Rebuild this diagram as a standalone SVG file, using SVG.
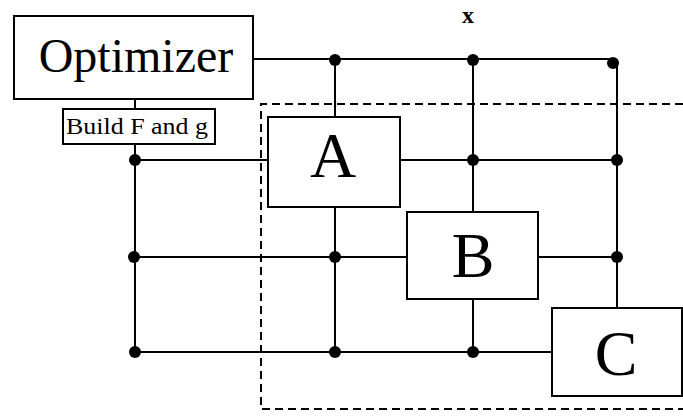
<svg xmlns="http://www.w3.org/2000/svg" width="683" height="418" viewBox="0 0 683 418">
<style>
.box{fill:#fff;stroke:#000;stroke-width:2}
.ln{stroke:#000;stroke-width:2;fill:none}
.dash{stroke:#000;stroke-width:2;fill:none;stroke-dasharray:8,5}
.dot{fill:#000}
.t{font-family:"Liberation Serif","Times New Roman",serif;fill:#000;text-anchor:middle}
</style>
<rect width="683" height="418" fill="#fff"/>
<path class="dash" d="M683,104 H261 V409 H683"/>
<g id="connectors">
<line class="ln" x1="135" y1="99" x2="135" y2="109"/>
<line class="ln" x1="135" y1="144" x2="135" y2="352"/>
<polyline class="ln" points="253,59 614,59 617,62 617,308"/>
<line class="ln" x1="335" y1="59" x2="335" y2="117"/>
<line class="ln" x1="335" y1="207" x2="335" y2="352"/>
<line class="ln" x1="473" y1="59" x2="473" y2="212"/>
<line class="ln" x1="473" y1="299" x2="473" y2="352"/>
<line class="ln" x1="135" y1="160" x2="268" y2="160"/>
<line class="ln" x1="400" y1="160" x2="617" y2="160"/>
<line class="ln" x1="135" y1="257" x2="407" y2="257"/>
<line class="ln" x1="538" y1="257" x2="617" y2="257"/>
<line class="ln" x1="135" y1="352" x2="552" y2="352"/>
<circle class="dot" cx="335" cy="60" r="6"/>
<circle class="dot" cx="473" cy="60" r="6"/>
<circle class="dot" cx="613" cy="63" r="6"/>
<circle class="dot" cx="135" cy="160" r="6"/>
<circle class="dot" cx="473" cy="160" r="6"/>
<circle class="dot" cx="617" cy="160" r="6"/>
<circle class="dot" cx="134" cy="257" r="6"/>
<circle class="dot" cx="335" cy="257" r="6"/>
<circle class="dot" cx="617" cy="257" r="6"/>
<circle class="dot" cx="135" cy="352" r="6"/>
<circle class="dot" cx="335" cy="352" r="6"/>
<circle class="dot" cx="473" cy="352" r="6"/>
</g>
<text class="t" x="468" y="23" font-size="24" font-weight="bold">x</text>
<g id="optimizer">
<rect class="box" x="14" y="16" width="239" height="83"/>
<text class="t" x="136" y="72" font-size="48">Optimizer</text>
</g>
<g id="build">
<rect class="box" x="63" y="109" width="152" height="35"/>
<text class="t" x="137" y="134" font-size="24" textLength="142" lengthAdjust="spacingAndGlyphs">Build F and g</text>
</g>
<g id="A">
<rect class="box" x="268" y="117" width="132" height="90"/>
<text class="t" x="333" y="177" font-size="64">A</text>
</g>
<g id="B">
<rect class="box" x="407" y="212" width="131" height="87"/>
<text class="t" x="473" y="277" font-size="64">B</text>
</g>
<g id="C">
<rect class="box" x="552" y="308" width="130" height="88"/>
<text class="t" x="616" y="375" font-size="64">C</text>
</g>
</svg>
